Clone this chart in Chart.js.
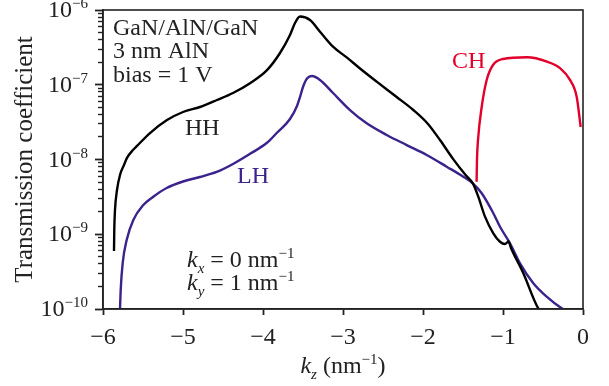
<!DOCTYPE html>
<html><head><meta charset="utf-8">
<script src="https://cdn.jsdelivr.net/npm/chart.js@4/dist/chart.umd.min.js"></script>
<style>html,body{margin:0;padding:0;background:#fff}#wrap{width:609px;height:386px;position:relative}</style>
</head><body><div id="wrap"><canvas id="c"></canvas></div>
<script>
// ---- data ----
const xTicks = [-6, -5, -4, -3, -2, -1, 0];
const xTickLabels = ['−6', '−5', '−4', '−3', '−2', '−1', '0'];
const yMajorTicks = [1e-10, 1e-9, 1e-8, 1e-7, 1e-6];
const yMajorExps = ['−10', '−9', '−8', '−7', '−6'];

const hhKz = [-5.8625, -5.859, -5.85, -5.825, -5.7875, -5.7375, -5.70, -5.625, -5.575, -5.4125, -5.20, -5.0, -4.7875, -4.575, -4.375, -4.1625, -3.95, -3.7875, -3.6625, -3.60, -3.5375, -3.4125, -3.2875, -3.125, -2.954, -2.7875, -2.579, -2.329, -2.121, -1.9375, -1.7875, -1.625, -1.4625, -1.375, -1.309, -1.225, -1.121, -1.0375, -0.975, -0.931, -0.90, -0.746, -0.559, -0.55];
const hhT  = [5.97e-10, 1.14e-9, 2.11e-9, 3.91e-9, 6.21e-9, 8.43e-9, 1.05e-8, 1.34e-8, 1.52e-8, 2.26e-8, 3.37e-8, 4.32e-8, 5.04e-8, 6.25e-8, 7.76e-8, 1.05e-7, 1.57e-7, 2.66e-7, 4.63e-7, 6.70e-7, 8.18e-7, 7.35e-7, 5.13e-7, 3.23e-7, 2.32e-7, 1.65e-7, 1.10e-7, 6.85e-8, 4.59e-8, 2.99e-8, 1.82e-8, 1.02e-8, 6.1e-9, 4.75e-9, 3.18e-9, 1.72e-9, 1.03e-9, 7.94e-10, 7.41e-10, 8.0e-10, 6.55e-10, 3.01e-10, 1.02e-10, 1.0e-10];

const lhKz = [-5.7875, -5.779, -5.754, -5.704, -5.621, -5.496, -5.371, -5.204, -5.0, -4.7875, -4.579, -4.375, -4.1625, -3.954, -3.829, -3.6625, -3.575, -3.5375, -3.50, -3.45, -3.3875, -3.2875, -3.121, -2.9125, -2.704, -2.454, -2.204, -1.954, -1.704, -1.496, -1.375, -1.266, -1.121, -1.0375, -0.9125, -0.7875, -0.621, -0.454, -0.266, -0.25];
const lhT  = [1.0e-10, 1.79e-10, 4.12e-10, 8.38e-10, 1.55e-9, 2.46e-9, 3.18e-9, 4.16e-9, 5.08e-9, 5.83e-9, 6.81e-9, 8.71e-9, 1.19e-8, 1.66e-8, 2.26e-8, 3.48e-8, 5.20e-8, 6.85e-8, 9.33e-8, 1.21e-7, 1.31e-7, 1.16e-7, 7.69e-8, 4.59e-8, 3.05e-8, 2.13e-8, 1.56e-8, 1.15e-8, 8.02e-9, 5.89e-9, 4.75e-9, 3.53e-9, 1.91e-9, 1.26e-9, 7.57e-10, 4.08e-10, 2.21e-10, 1.46e-10, 1.02e-10, 1.0e-10];

const chKz = [-1.33, -1.325, -1.3125, -1.266, -1.204, -1.125, -1.0, -0.70, -0.45, -0.2875, -0.1625, -0.079, -0.029];
const chT  = [5.05e-9, 1.0e-8, 1.82e-8, 5.08e-8, 1.16e-7, 1.84e-7, 2.21e-7, 2.33e-7, 2.04e-7, 1.67e-7, 1.16e-7, 6.92e-8, 2.72e-8];

const seriesNames = ['HH', 'LH', 'CH'];
const seriesColors = ['#000000', '#3b228c', '#e3002b'];

// minor tick positions 2..9 within each decade
const yMinorTicks = [];
for (let i = 0; i < yMajorTicks.length - 1; i++) {
  for (let m = 2; m <= 9; m++) yMinorTicks.push(m * yMajorTicks[i]);
}

const FONT = '"Liberation Serif", "Times New Roman", serif';
const INK = '#222';
const FS = 24;

function drawRuns(ctx, runs, x, y, align, base, small, supOff, subOff) {
  let total = 0;
  const parts = runs.map(r => {
    const size = (r.sup || r.sub) ? small : base;
    const font = (r.it ? 'italic ' : '') + size + 'px ' + FONT;
    ctx.font = font;
    const w = ctx.measureText(r.t).width;
    total += w;
    return { r, font, w };
  });
  let cx = align === 'right' ? x - total : (align === 'center' ? x - total / 2 : x);
  ctx.textAlign = 'left';
  ctx.textBaseline = 'alphabetic';
  for (const p of parts) {
    ctx.font = p.font;
    const dy = p.r.sup ? -supOff : (p.r.sub ? subOff : 0);
    ctx.fillText(p.r.t, cx, y + dy);
    cx += p.w;
  }
}

const textPlugin = {
  id: 'textPlugin',
  afterDraw(chart) {
    const ctx = chart.ctx;
    const a = chart.chartArea;
    const xs = chart.scales.x, ys = chart.scales.y;
    ctx.save();
    // frame
    ctx.strokeStyle = INK;
    ctx.lineWidth = 1.6;
    ctx.strokeRect(a.left, a.top, a.right - a.left, a.bottom - a.top);

    ctx.fillStyle = INK;
    // y tick labels
    yMajorTicks.forEach((v, i) => {
      const py = ys.getPixelForValue(v);
      drawRuns(ctx, [{ t: '10' }, { t: yMajorExps[i], sup: true }], a.left - 15, py + 7, 'right', FS, 15, 9, 0);
    });
    // x tick labels
    ctx.font = FS + 'px ' + FONT;
    ctx.textAlign = 'center';
    ctx.textBaseline = 'alphabetic';
    xTicks.forEach((v, i) => {
      ctx.fillText(xTickLabels[i], xs.getPixelForValue(v), a.bottom + 35);
    });
    // x title
    drawRuns(ctx, [{ t: 'k', it: true }, { t: 'z', it: true, sub: true }, { t: ' (nm' }, { t: '−1', sup: true }, { t: ')' }],
      (a.left + a.right) / 2, a.bottom + 64, 'center', FS, 15, 9, 6);
    // y title
    ctx.save();
    ctx.translate(32, (a.top + a.bottom) / 2);
    ctx.rotate(-Math.PI / 2);
    ctx.font = '25px ' + FONT;
    ctx.textAlign = 'center';
    ctx.fillText('Transmission coefficient', 0, 0);
    ctx.restore();

    // annotations
    ctx.font = FS + 'px ' + FONT;
    ctx.textAlign = 'left';
    ctx.fillText('GaN/AlN/GaN', a.left + 10, a.top + 25);
    ctx.fillText('3 nm AlN', a.left + 10, a.top + 48);
    ctx.fillText('bias = 1 V', a.left + 10, a.top + 72);
    ctx.fillText('HH', 185, 135);
    ctx.fillStyle = seriesColors[1];
    ctx.fillText('LH', 237, 183);
    ctx.fillStyle = seriesColors[2];
    ctx.fillText('CH', 452, 68);
    ctx.fillStyle = INK;
    drawRuns(ctx, [{ t: 'k', it: true }, { t: 'x', it: true, sub: true }, { t: ' = 0 nm' }, { t: '−1', sup: true }], 187, 267, 'left', FS, 15, 9, 6);
    drawRuns(ctx, [{ t: 'k', it: true }, { t: 'y', it: true, sub: true }, { t: ' = 1 nm' }, { t: '−1', sup: true }], 187, 290, 'left', FS, 15, 9, 6);
    ctx.restore();
  }
};

function pts(xa, ya) { return xa.map((x, i) => ({ x, y: ya[i] })); }
const allKz = [hhKz, lhKz, chKz];
const allT = [hhT, lhT, chT];

new Chart(document.getElementById('c'), {
  type: 'line',
  data: {
    datasets: seriesNames.map((n, i) => ({
      label: n,
      data: pts(allKz[i], allT[i]),
      borderColor: seriesColors[i],
      borderWidth: 2.4,
      pointRadius: 0,
      fill: false,
      cubicInterpolationMode: 'monotone',
      yAxisID: 'y'
    }))
  },
  options: {
    responsive: true,
    maintainAspectRatio: false,
    animation: false,
    events: [],
    layout: { padding: { top: 10, right: 26, left: 0, bottom: 0 } },
    plugins: { legend: { display: false }, tooltip: { enabled: false } },
    scales: {
      x: {
        type: 'linear', min: -6, max: 0,
        afterBuildTicks: s => { s.ticks = xTicks.map(v => ({ value: v })); },
        afterFit: s => { s.height = 77; },
        ticks: { display: false },
        grid: { drawOnChartArea: false, drawTicks: true, tickLength: 6, tickWidth: 1.8, tickColor: INK },
        border: { display: true, color: INK, width: 1.6 }
      },
      y: {
        type: 'logarithmic', min: 1e-10, max: 1e-6, position: 'left', weight: 1,
        afterBuildTicks: s => { s.ticks = yMajorTicks.map(v => ({ value: v, major: true })); },
        afterFit: s => { s.width = 103; },
        ticks: { display: false },
        grid: { drawOnChartArea: false, drawTicks: true, tickLength: 8, tickWidth: 1.8, tickColor: INK },
        border: { display: true, color: INK, width: 1.6 }
      },
      y2: {
        type: 'logarithmic', min: 1e-10, max: 1e-6, position: 'left', weight: 0,
        afterBuildTicks: s => { s.ticks = yMinorTicks.map(v => ({ value: v })); },
        afterFit: s => { s.width = 0; },
        ticks: { display: false },
        grid: { drawOnChartArea: false, drawTicks: true, tickLength: 5, tickWidth: 1.4, tickColor: INK },
        border: { display: false }
      }
    }
  },
  plugins: [textPlugin]
});
</script>
</body></html>
